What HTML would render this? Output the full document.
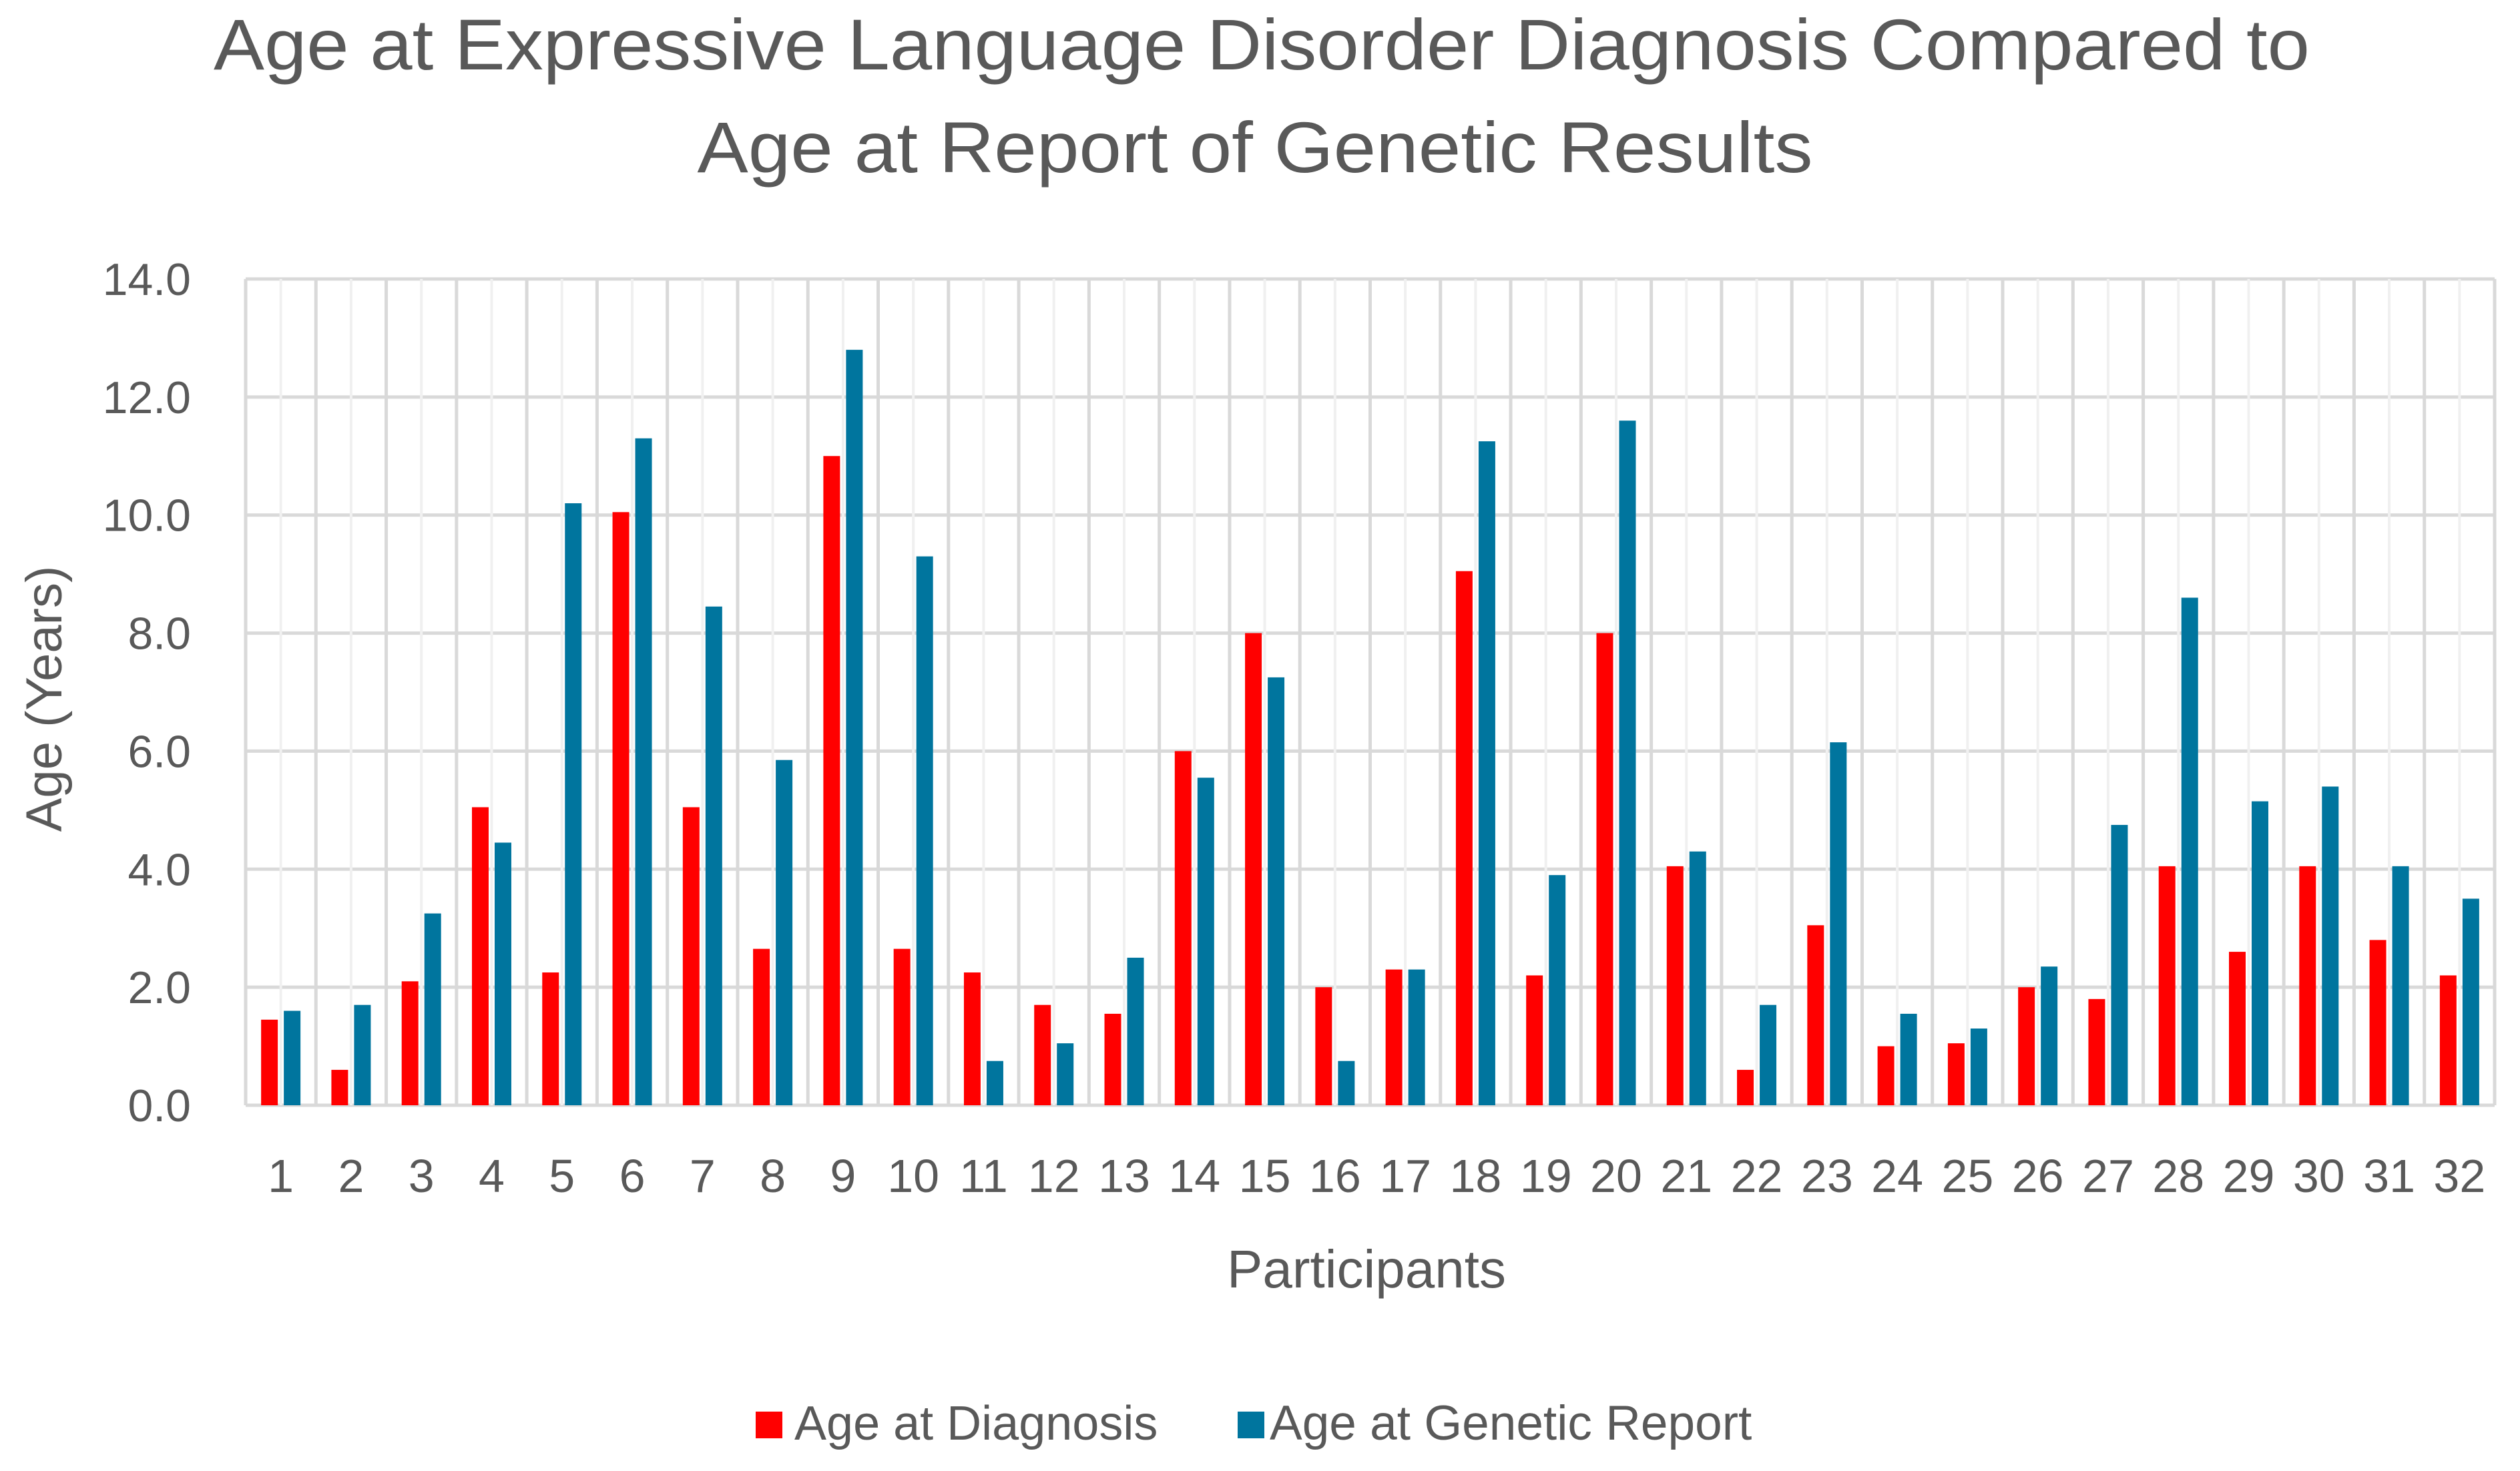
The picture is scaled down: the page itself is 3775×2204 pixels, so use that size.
<!DOCTYPE html>
<html><head><meta charset="utf-8"><style>
html,body{margin:0;padding:0;background:#fff;}
svg{display:block;font-family:"Liberation Sans",sans-serif;}
</style></head><body>
<svg id="chart" width="3775" height="2204" viewBox="0 0 3775 2204" xmlns="http://www.w3.org/2000/svg">
<rect width="3775" height="2204" fill="#fff"/>
<text x="1890" y="104" text-anchor="middle" font-size="108" fill="#595959" textLength="3140" lengthAdjust="spacingAndGlyphs">Age at Expressive Language Disorder Diagnosis Compared to</text>
<text x="1880" y="258" text-anchor="middle" font-size="108" fill="#595959" textLength="1671" lengthAdjust="spacingAndGlyphs">Age at Report of Genetic Results</text>
<g id="grid"></g>
<g id="bars"></g>
<g id="yticks"></g>
<g id="xticks"></g>
<text x="0" y="0" transform="translate(92,1047) rotate(-90)" text-anchor="middle" font-size="76" fill="#595959">Age (Years)</text>
<text x="2047" y="1929" text-anchor="middle" font-size="80" fill="#595959">Participants</text>
<g>
<g>
<rect x="1132" y="2115" width="40" height="40" fill="#ff0000"/>
<text x="1190" y="2157" font-size="72" fill="#595959">Age at Diagnosis</text>
</g>
<g>
<rect x="1854" y="2115" width="40" height="40" fill="#00759e"/>
<text x="1902" y="2157" font-size="73" fill="#595959">Age at Genetic Report</text>
</g>
</g>
</svg>
<script>
const categories = ["1","2","3","4","5","6","7","8","9","10","11","12","13","14","15","16","17","18","19","20","21","22","23","24","25","26","27","28","29","30","31","32"];
const ageAtDiagnosis = [1.45,0.6,2.1,5.05,2.25,10.05,5.05,2.65,11.0,2.65,2.25,1.7,1.55,6.0,8.0,2.0,2.3,9.05,2.2,8.0,4.05,0.6,3.05,1.0,1.05,2.0,1.8,4.05,2.6,4.05,2.8,2.2];
const ageAtGeneticReport = [1.6,1.7,3.25,4.45,10.2,11.3,8.45,5.85,12.8,9.3,0.75,1.05,2.5,5.55,7.25,0.75,2.3,11.25,3.9,11.6,4.3,1.7,6.15,1.55,1.3,2.35,4.75,8.6,5.15,5.4,4.05,3.5];
const yTickValues = [0,2,4,6,8,10,12,14];
const yTickLabels = ["0.0","2.0","4.0","6.0","8.0","10.0","12.0","14.0"];

const NS = "http://www.w3.org/2000/svg";
const L = 368, R = 3737, T = 418, B = 1656, YMAX = 14;
const bw = (R - L) / categories.length;
function y(v){ return B - (v / YMAX) * (B - T); }
function xc(i){ return L + bw * (i + 0.5); }
function mk(tag, attrs, parent){
  const e = document.createElementNS(NS, tag);
  for (const k in attrs) e.setAttribute(k, attrs[k]);
  parent.appendChild(e);
  return e;
}
const grid = document.getElementById('grid');
const bars = document.getElementById('bars');
const yt = document.getElementById('yticks');
const xt = document.getElementById('xticks');

yTickValues.forEach((v, i) => {
  const ln = mk('line', {x1: L, x2: R, y1: y(v), y2: y(v), stroke: '#d9d9d9', 'stroke-width': 5}, grid);
  
  
  const t = mk('text', {x: 286, y: y(v) + 24, 'text-anchor': 'end', 'font-size': 68, fill: '#595959'}, yt);
  t.textContent = yTickLabels[i];
  
  
});
for (let i = 0; i <= categories.length; i++) {
  const x = L + bw * i;
  const ln = mk('line', {x1: x, x2: x, y1: T, y2: B, stroke: '#d9d9d9', 'stroke-width': 5}, grid);
  
  
  if (i < categories.length) {
    const m = mk('line', {x1: x + bw / 2, x2: x + bw / 2, y1: T, y2: B, stroke: '#f0f0f0', 'stroke-width': 4}, grid);
    
    
  }
}
const barW = 25;
categories.forEach((c, i) => {
  const cx = xc(i);
  const r = mk('rect', {x: cx - 17 - barW / 2, y: y(ageAtDiagnosis[i]), width: barW, height: B - y(ageAtDiagnosis[i]), fill: '#ff0000'}, bars);
  
  
  const b = mk('rect', {x: cx + 17 - barW / 2, y: y(ageAtGeneticReport[i]), width: barW, height: B - y(ageAtGeneticReport[i]), fill: '#00759e'}, bars);
  
  
  const t = mk('text', {x: cx, y: 1786, 'text-anchor': 'middle', 'font-size': 70, fill: '#595959'}, xt);
  t.textContent = c;
  
  
});
</script>
</body></html>
